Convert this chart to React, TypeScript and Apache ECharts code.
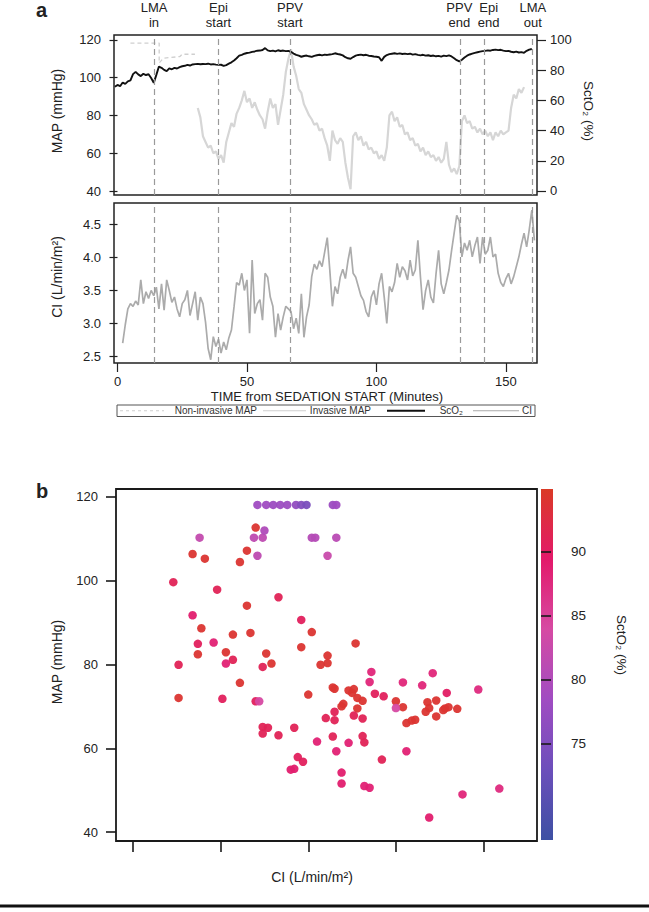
import React, { useEffect, useRef } from "react";
import * as echarts from "echarts";

const FONT = '"Liberation Sans", Arial, Helvetica, sans-serif';

// ---- Panel a: event markers (minutes)
const EVENT_TIMES = [14.1, 39, 66.6, 132.4, 141.8, 160];
const EVENT_LABELS = ["LMA\nin", "Epi\nstart", "PPV\nstart", "PPV\nend", "Epi\nend", "LMA\nout"];
const EVENT_LABEL_SHIFT = [0, 0, 0, -1, 4, 1];

// ---- ScO2 (black), one value per minute from SCO_START
const SCO_START = -1;
const SCO_VALUES = [
  69.0, 70.2, 69.4, 71.8, 70.9, 72.6, 73.2, 77.4, 78.9, 77.2,
  76.1, 77.6, 76.8, 77.3, 74.8, 71.6, 76.9, 82.4, 81.6, 80.2,
  79.4, 81.2, 80.6, 81.5, 81.1, 82.0, 82.6, 82.9, 83.5, 83.1,
  83.8, 84.0, 84.2, 83.9, 84.1, 84.0, 84.3, 83.8, 84.0, 83.7,
  83.5, 83.6, 82.9, 83.4, 84.3, 85.2, 86.4, 87.9, 89.6, 90.2,
  90.9, 91.4, 91.6, 92.1, 92.4, 92.9, 93.0, 93.4, 94.6, 93.1,
  92.6, 93.0, 92.4, 93.2, 92.7, 93.0, 92.6, 92.8, 92.1, 91.0,
  90.1, 89.6, 88.9, 89.4, 89.7, 89.2, 88.8, 89.5, 89.9, 90.2,
  89.8, 90.3, 90.1, 90.4, 90.6, 91.2, 90.7, 90.4, 89.8, 88.6,
  87.9, 87.6, 88.7, 89.6, 90.1, 90.3, 89.9, 90.2, 89.6, 89.4,
  89.1, 88.9, 88.6, 86.2, 88.8, 90.0, 90.6, 90.9, 91.2, 90.8,
  91.1, 90.7, 91.0, 90.6, 90.9, 90.3, 90.6, 90.1, 89.8, 90.2,
  89.6, 89.9, 89.4, 89.7, 89.2, 89.5, 89.0, 89.6, 89.3, 89.8,
  89.1, 87.9, 86.6, 85.8, 86.9, 88.4, 89.6, 90.4, 91.0, 91.5,
  91.9, 92.3, 92.6, 92.8, 93.1, 92.9, 93.4, 93.6, 93.3, 93.5,
  93.0, 92.6, 92.8, 92.2, 91.9, 92.3, 91.7, 92.0, 91.5, 92.8,
  93.6, 94.0,
];

// ---- Invasive MAP (light gray), one value per minute from MAP_START
const MAP_START = 31;
const MAP_VALUES = [
  84, 79, 69, 66, 63, 64, 60, 61, 57, 59,
  55, 66, 71, 76, 74, 81, 84, 88, 93, 87,
  89, 84, 87, 83, 80, 78, 73, 82, 89, 84,
  86, 75, 83, 91, 103, 110, 115, 106, 101, 94,
  92, 86, 83, 80, 78, 75, 76, 72, 73, 68,
  64, 56, 72, 67, 65, 68, 66, 55, 47, 41,
  69, 71, 67, 69, 64, 66, 62, 63, 60, 61,
  57, 59, 56, 63, 80, 82, 77, 79, 74, 75,
  70, 71, 67, 68, 64, 65, 61, 63, 59, 61,
  58, 59, 56, 58, 55, 57, 66, 54, 50, 52,
  49, 53, 77, 80, 76, 77, 73, 74, 71, 73,
  70, 72, 69, 71, 67, 71, 69, 72, 70, 71,
  72, 84, 91, 89, 94, 92, 95,
];

// ---- Non-invasive MAP (dashed)
const NIMAP_TIMES = [5, 16.1, 16.1, 17.7, 24.1, 25.0, 29.9];
const NIMAP_VALUES = [118.3, 118.3, 107.8, 110.3, 111.2, 112.4, 112.4];

// ---- CI (gray), one value per minute from CI_START
const CI_START = 2;
const CI_VALUES = [
  2.70, 2.98, 3.22, 3.30, 3.26, 3.34, 3.28, 3.66, 3.30, 3.48,
  3.38, 3.50, 3.42, 3.55, 3.22, 3.60, 3.20, 3.66, 3.50, 3.32,
  3.40, 3.22, 3.10, 3.30, 3.36, 3.50, 3.12, 3.30, 3.48, 3.05,
  3.40, 3.30, 3.02, 2.62, 2.45, 2.80, 2.65, 2.76, 2.55, 2.72,
  2.60, 2.78, 2.90, 3.25, 3.62, 3.58, 3.76, 3.50, 3.66, 2.85,
  3.96, 3.15, 3.30, 3.36, 3.05, 3.76, 3.70, 3.40, 3.26, 2.79,
  3.15, 2.90, 3.10, 3.26, 3.22, 3.18, 2.92, 3.08, 2.85, 3.45,
  2.79, 3.10, 3.28, 3.71, 3.90, 3.82, 3.95, 3.86, 4.08, 4.30,
  3.80, 3.26, 3.56, 3.45, 3.70, 3.82, 3.68, 3.95, 4.16, 3.76,
  3.70, 3.56, 3.42, 3.35, 3.18, 3.10, 3.40, 3.50, 3.28, 3.60,
  3.76, 3.40, 3.00, 3.56, 3.48, 3.62, 3.91, 3.70, 3.86, 3.80,
  3.66, 3.96, 3.72, 3.81, 4.26, 3.70, 3.21, 3.50, 3.66, 3.40,
  3.31, 3.75, 4.11, 3.60, 3.45, 3.62, 3.81, 4.10, 4.37, 4.64,
  4.55, 4.01, 4.22, 4.11, 4.26, 4.01, 4.18, 4.31, 3.91, 4.31,
  4.05, 4.11, 4.31, 4.01, 4.05, 3.76, 3.62, 3.56, 3.68, 3.76,
  3.60, 3.71, 3.86, 4.01, 4.20, 4.37, 4.16, 4.42, 4.72, 4.26,
];

// ---- Panel b scatter
const SCAT_CI = [
  3.21, 3.26, 3.30, 3.34, 3.38, 3.43, 3.46, 3.49, 3.64, 3.66,
  2.88, 3.19, 3.24, 3.52, 3.54, 3.66, 3.25, 3.20, 3.21, 3.61,
  2.84, 2.91, 3.15, 3.11, 2.73, 2.98, 3.33, 3.15, 2.84, 3.46,
  2.89, 3.52, 3.07, 3.17, 2.87, 2.96, 3.77, 3.46, 3.03, 3.26,
  2.87, 3.61, 3.61, 3.57, 3.07, 3.03, 2.76, 3.24, 3.29, 3.11,
  2.76, 3.01, 3.20, 3.22, 3.50, 3.60, 3.24, 3.27, 3.24, 3.33,
  3.42, 3.55, 3.44, 3.47, 3.40, 3.42, 3.86, 3.85, 4.21, 4.04,
  4.15, 4.47, 4.29, 3.64, 3.65, 3.73, 3.75, 3.76, 3.78, 3.81,
  3.69, 3.70, 3.88, 3.93, 3.78, 3.65, 3.65, 3.76, 3.81, 4.00,
  4.04, 4.00, 4.18, 4.23, 4.19, 4.17, 4.23, 4.28, 4.30, 4.27,
  4.35, 4.06, 4.09, 4.11, 3.64, 3.81, 3.82, 3.73, 3.66, 4.06,
  3.92, 3.69, 3.69, 3.82, 3.85, 4.38, 4.59, 4.19,
];
const SCAT_MAP = [
  118.0, 118.0, 118.0, 118.0, 118.0, 118.0, 118.0, 118.0, 118.0, 118.0,
  110.2, 110.2, 110.2, 110.2, 110.2, 110.2, 111.9, 112.6, 105.9, 105.9,
  106.3, 105.2, 107.1, 104.4, 99.6, 97.8, 96.0, 94.0, 91.7, 90.6,
  88.6, 87.7, 87.1, 87.5, 84.9, 85.2, 85.0, 84.1, 82.9, 82.6,
  82.4, 82.1, 80.3, 79.9, 81.1, 80.2, 79.9, 79.4, 80.2, 75.6,
  72.0, 71.8, 71.2, 71.2, 72.8, 67.2, 65.1, 64.9, 63.5, 63.1,
  64.9, 61.6, 57.9, 56.8, 54.9, 55.1, 78.2, 75.8, 77.9, 75.7,
  75.0, 74.0, 73.2, 74.5, 74.2, 73.8, 73.2, 74.1, 72.0, 71.3,
  70.0, 70.6, 73.0, 72.4, 69.5, 68.7, 66.7, 67.8, 67.1, 71.2,
  69.8, 69.6, 71.0, 71.4, 69.6, 68.7, 67.6, 69.5, 69.8, 69.1,
  69.4, 66.0, 66.6, 66.8, 62.8, 62.9, 61.4, 61.3, 59.3, 59.3,
  57.3, 54.2, 51.6, 51.0, 50.6, 49.0, 50.4, 43.5,
];
const SCAT_SCO = [
  78.5, 78.5, 78, 78, 78, 77, 75.5, 74.5, 78, 78.5,
  82, 81.5, 81.5, 80.5, 80.5, 81, 80, 94, 81.5, 82.5,
  94, 94, 94, 94, 91, 91, 91, 94, 89, 90.5,
  94, 94, 94, 94, 90.5, 88.5, 94, 94, 94, 94,
  94, 94, 94, 94, 91, 88.5, 91, 91, 94, 94,
  94, 90.5, 90.5, 84, 94, 91, 91, 91, 91, 91,
  91, 88.5, 90.5, 90.5, 89, 89, 88, 88, 88, 88,
  88, 87.5, 90, 94, 94, 94, 94, 94, 94, 94,
  94, 94, 90.5, 90.5, 94, 91, 91, 91, 91, 94,
  94, 84, 94, 94, 94, 94, 94, 94, 94, 94,
  94, 94, 94, 94, 91, 91, 91, 88.5, 88.5, 88.5,
  91, 89, 89, 88.5, 88.5, 88, 87.5, 89,
];

// ---- Tick values
const MAP_TICKS = [40, 60, 80, 100, 120];
const SCO_TICKS = [0, 20, 40, 60, 80, 100];
const CI_TICKS = [2.5, 3.0, 3.5, 4.0, 4.5];
const TIME_TICKS = [0, 50, 100, 150];
const SCAT_X_TICKS = [2.5, 3.0, 3.5, 4.0, 4.5];
const CBAR_TICKS = [75, 80, 85, 90];
const CBAR_MIN = 67.5;
const CBAR_MAX = 94.9;
const CBAR_COLORS = ["#3d50a3", "#6c4fbb", "#a04cc2", "#d64aa3", "#e3196a", "#da3a26"];

const TXT = "#222";

function seriesFrom(start: number, vals: number[]) {
  return vals.map((v, i) => [start + i, v]);
}

export default function App() {
  const ref = useRef<HTMLDivElement>(null);

  useEffect(() => {
    if (!ref.current) return;
    const chart = echarts.init(ref.current, null, { renderer: "svg" });

    const labelStyle = { color: TXT, fontSize: 12.5, fontFamily: FONT };
    const tickStyle = { color: TXT, width: 1.2 };
    const eventLines = EVENT_TIMES.map((t, i) => ({
      xAxis: t,
      name: EVENT_LABELS[i],
      label: { offset: [EVENT_LABEL_SHIFT[i], 0] },
    }));
    const eventLinesPlain = EVENT_TIMES.map((t) => ({ xAxis: t }));

    const txt = (text: string, x: number, y: number, opts: any = {}) => ({
      type: "text",
      x,
      y,
      rotation: opts.rotation || 0,
      style: {
        text,
        fill: opts.fill || TXT,
        fontSize: opts.fontSize || 12.5,
        fontFamily: FONT,
        fontWeight: opts.fontWeight || "normal",
        align: opts.align || "center",
        verticalAlign: "middle",
      },
    });

    const stops = CBAR_COLORS.map((c, i) => ({ offset: i / (CBAR_COLORS.length - 1), color: c }));

    const option: any = {
      animation: false,
      backgroundColor: "#fff",
      textStyle: { fontFamily: FONT },
      grid: [
        { left: 114, top: 35, width: 423, height: 160, show: true, borderColor: "#222", borderWidth: 1.5, backgroundColor: "transparent" },
        { left: 114, top: 203, width: 423, height: 160, show: true, borderColor: "#222", borderWidth: 1.5, backgroundColor: "transparent" },
        { left: 116, top: 489, width: 421, height: 352, show: true, borderColor: "#1a1a1a", borderWidth: 1.8, backgroundColor: "transparent" },
        { left: 541, top: 489, width: 12, height: 351, show: false },
      ],
      xAxis: [
        { type: "value", gridIndex: 0, min: -1.35, max: 162, show: false },
        {
          type: "value", gridIndex: 1, min: -1.35, max: 162,
          axisLine: { show: false }, splitLine: { show: false },
          axisTick: { show: true, customValues: TIME_TICKS, length: 9, lineStyle: tickStyle },
          axisLabel: { show: true, customValues: TIME_TICKS, margin: 12, ...labelStyle, fontSize: 13 },
        },
        {
          type: "value", gridIndex: 2, min: 2.403, max: 4.805,
          axisLine: { show: false }, splitLine: { show: false },
          axisTick: { show: true, customValues: SCAT_X_TICKS, length: 11, lineStyle: { color: "#1a1a1a", width: 1.6 } },
          axisLabel: { show: false },
        },
        { type: "value", gridIndex: 3, min: 0, max: 1, show: false },
      ],
      yAxis: [
        {
          type: "value", gridIndex: 0, min: 37.9, max: 122.6,
          axisLine: { show: false }, splitLine: { show: false },
          axisTick: { show: true, customValues: MAP_TICKS, length: 8, lineStyle: tickStyle },
          axisLabel: { show: true, customValues: MAP_TICKS, margin: 13, ...labelStyle, fontSize: 13 },
        },
        {
          type: "value", gridIndex: 0, position: "right", min: -2.65, max: 103.3,
          axisLine: { show: false }, splitLine: { show: false },
          axisTick: { show: true, customValues: SCO_TICKS, length: 9, lineStyle: tickStyle },
          axisLabel: { show: true, customValues: SCO_TICKS, margin: 13, ...labelStyle, fontSize: 13 },
        },
        {
          type: "value", gridIndex: 1, min: 2.4, max: 4.826,
          axisLine: { show: false }, splitLine: { show: false },
          axisTick: { show: true, customValues: CI_TICKS, length: 8, lineStyle: tickStyle },
          axisLabel: { show: true, customValues: CI_TICKS, margin: 13, formatter: (v: number) => v.toFixed(1), ...labelStyle, fontSize: 13 },
        },
        {
          type: "value", gridIndex: 2, min: 37.9, max: 121.8,
          axisLine: { show: false }, splitLine: { show: false },
          axisTick: { show: true, customValues: MAP_TICKS, length: 10, lineStyle: { color: "#1a1a1a", width: 1.6 } },
          axisLabel: { show: true, customValues: MAP_TICKS, margin: 18, ...labelStyle, fontSize: 13 },
        },
        {
          type: "value", gridIndex: 3, position: "right", min: CBAR_MIN, max: CBAR_MAX,
          axisLine: { show: false }, splitLine: { show: false },
          axisTick: { show: true, customValues: CBAR_TICKS, length: 10, lineStyle: { color: "#1a1a1a", width: 1.6 } },
          axisLabel: { show: true, customValues: CBAR_TICKS, margin: 18, ...labelStyle, fontSize: 13.5 },
        },
      ],
      visualMap: {
        type: "continuous",
        show: false,
        seriesIndex: 4,
        dimension: 2,
        min: CBAR_MIN,
        max: CBAR_MAX,
        inRange: { color: CBAR_COLORS },
      },
      series: [
        {
          name: "Invasive MAP",
          type: "line",
          xAxisIndex: 0, yAxisIndex: 0,
          data: seriesFrom(MAP_START, MAP_VALUES),
          showSymbol: false, symbol: "none",
          lineStyle: { color: "#d6d6d6", width: 2.2 },
          z: 2,
          markLine: {
            silent: true, symbol: ["none", "none"],
            lineStyle: { color: "#9a9a9a", width: 1.2, type: [6, 4] },
            label: { show: true, position: "end", formatter: "{b}", distance: 5, color: TXT, fontSize: 13, lineHeight: 15, fontFamily: FONT },
            data: eventLines,
          },
        },
        {
          name: "Non-invasive MAP",
          type: "line",
          xAxisIndex: 0, yAxisIndex: 0,
          data: NIMAP_TIMES.map((t, i) => [t, NIMAP_VALUES[i]]),
          showSymbol: false, symbol: "none",
          lineStyle: { color: "#cfcfcf", width: 1.3, type: [4, 3] },
          z: 2,
        },
        {
          name: "ScO2",
          type: "line",
          xAxisIndex: 0, yAxisIndex: 1,
          data: seriesFrom(SCO_START, SCO_VALUES),
          showSymbol: false, symbol: "none",
          lineStyle: { color: "#111", width: 1.9 },
          z: 3,
        },
        {
          name: "CI",
          type: "line",
          xAxisIndex: 1, yAxisIndex: 2,
          data: seriesFrom(CI_START, CI_VALUES),
          showSymbol: false, symbol: "none",
          lineStyle: { color: "#ababab", width: 1.7 },
          z: 3,
          markLine: {
            silent: true, symbol: ["none", "none"],
            lineStyle: { color: "#9a9a9a", width: 1.2, type: [6, 4] },
            label: { show: false },
            data: eventLinesPlain,
          },
        },
        {
          name: "scatter",
          type: "scatter",
          xAxisIndex: 2, yAxisIndex: 3,
          symbolSize: 8.5,
          itemStyle: { opacity: 0.95 },
          data: SCAT_CI.map((c, i) => [c, SCAT_MAP[i], SCAT_SCO[i]]),
          z: 3,
        },
        {
          type: "line",
          xAxisIndex: 3, yAxisIndex: 4,
          data: [],
        },
      ],
      graphic: [
        txt("a", 36, 10, { fontSize: 20, fontWeight: "bold", align: "left" }),
        txt("b", 36, 491, { fontSize: 20, fontWeight: "bold", align: "left" }),
        txt("MAP (mmHg)", 57, 111, { rotation: Math.PI / 2, fontSize: 14 }),
        txt("CI (L/min/m\u00b2)", 57, 277, { rotation: Math.PI / 2, fontSize: 14 }),
        txt("SctO\u2082 (%)", 588, 111, { rotation: -Math.PI / 2, fontSize: 13.5 }),
        txt("TIME from SEDATION START (Minutes)", 327, 396.5, { fontSize: 13 }),
        {
          type: "rect",
          shape: { x: 117, y: 405, width: 418, height: 11.5 },
          style: { fill: "none", stroke: "#555", lineWidth: 1 },
        },
        { type: "line", shape: { x1: 120, y1: 410.75, x2: 164, y2: 410.75 }, style: { stroke: "#cfcfcf", lineWidth: 1, lineDash: [3, 3] } },
        txt("Non-invasive MAP", 257, 410.75, { fontSize: 10, align: "right", fill: "#333" }),
        { type: "line", shape: { x1: 263, y1: 410.75, x2: 306, y2: 410.75 }, style: { stroke: "#cfcfcf", lineWidth: 1 } },
        txt("Invasive MAP", 371, 410.75, { fontSize: 10, align: "right", fill: "#333" }),
        { type: "line", shape: { x1: 387, y1: 410.75, x2: 425, y2: 410.75 }, style: { stroke: "#111", lineWidth: 2.2 } },
        txt("ScO\u2082", 463, 410.75, { fontSize: 10, align: "right", fill: "#333" }),
        { type: "line", shape: { x1: 473, y1: 410.75, x2: 519, y2: 410.75 }, style: { stroke: "#aaa", lineWidth: 1.2 } },
        txt("CI", 532, 410.75, { fontSize: 10, align: "right", fill: "#333" }),
        {
          type: "rect",
          shape: { x: 541, y: 489, width: 12, height: 351 },
          style: { fill: new echarts.graphic.LinearGradient(0, 1, 0, 0, stops) },
        },
        txt("MAP (mmHg)", 57, 662, { rotation: Math.PI / 2, fontSize: 14 }),
        txt("CI (L/min/m\u00b2)", 312, 877, { fontSize: 14 }),
        txt("SctO\u2082 (%)", 621, 645, { rotation: -Math.PI / 2, fontSize: 13.5 }),
        { type: "line", shape: { x1: 0, y1: 906, x2: 649, y2: 906 }, style: { stroke: "#111", lineWidth: 3 } },
      ],
    };

    chart.setOption(option);
    return () => chart.dispose();
  }, []);

  return (
    <div
      ref={ref}
      style={{ position: "absolute", left: 0, top: 0, width: 649, height: 912, background: "#fff" }}
    />
  );
}
